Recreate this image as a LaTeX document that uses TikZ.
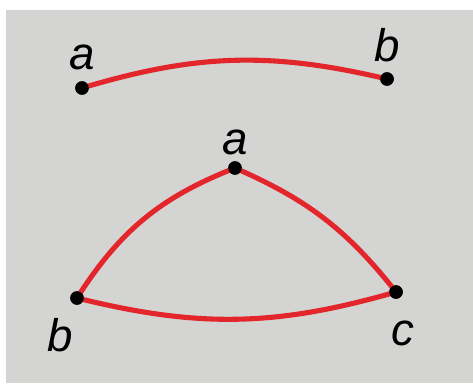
\documentclass[tikz,border=0pt]{standalone}
\usepackage{fontspec}
\setmainfont{Liberation Sans}
\usetikzlibrary{positioning}
\definecolor{PaperGray}{RGB}{212,213,210}
\definecolor{ArcRed}{RGB}{226,38,44}

\begin{document}
\begin{tikzpicture}[
  x=0.02cm,y=-0.02cm,
  pt/.style={circle,fill=black,inner sep=0pt,minimum size=0.27cm},
  lbl/.style={inner sep=0pt,font=\fontsize{26}{26}\selectfont\itshape},
  arc/.style={draw=ArcRed,line width=2.9pt}
]
  \useasboundingbox (0,0) rectangle (473,385);
  \fill[PaperGray] (6,10) rectangle (473,383);
  % segment
  \node[pt] (a1) at (82,88) {};
  \node[pt] (b1) at (387,79) {};
  \draw[arc] (a1.center) to[bend left=15] (b1.center);
  \node[pt] at (a1) {};
  \node[pt] at (b1) {};
  \node[lbl,above=0.22cm of a1] (la1) {a};
  \node[lbl,above=0.2cm of b1] (lb1) {b};
  % triangle
  \node[pt] (a2) at (235,168) {};
  \node[pt] (b2) at (77,298) {};
  \node[pt] (c2) at (396,292) {};
  \draw[arc] (a2.center) to[bend right=18] (b2.center);
  \draw[arc] (a2.center) to[bend left=14] (c2.center);
  \draw[arc] (b2.center) to[bend right=15] (c2.center);
  \node[pt] at (a2) {};
  \node[pt] at (b2) {};
  \node[pt] at (c2) {};
  \node[lbl,above=0.12cm of a2] (la2) {a};
  \node[lbl,below=0.26cm of b2,xshift=-0.34cm] (lb2) {b};
  \node[lbl,below=0.42cm of c2,xshift=0.14cm] (lc2) {c};
\end{tikzpicture}
\end{document}
